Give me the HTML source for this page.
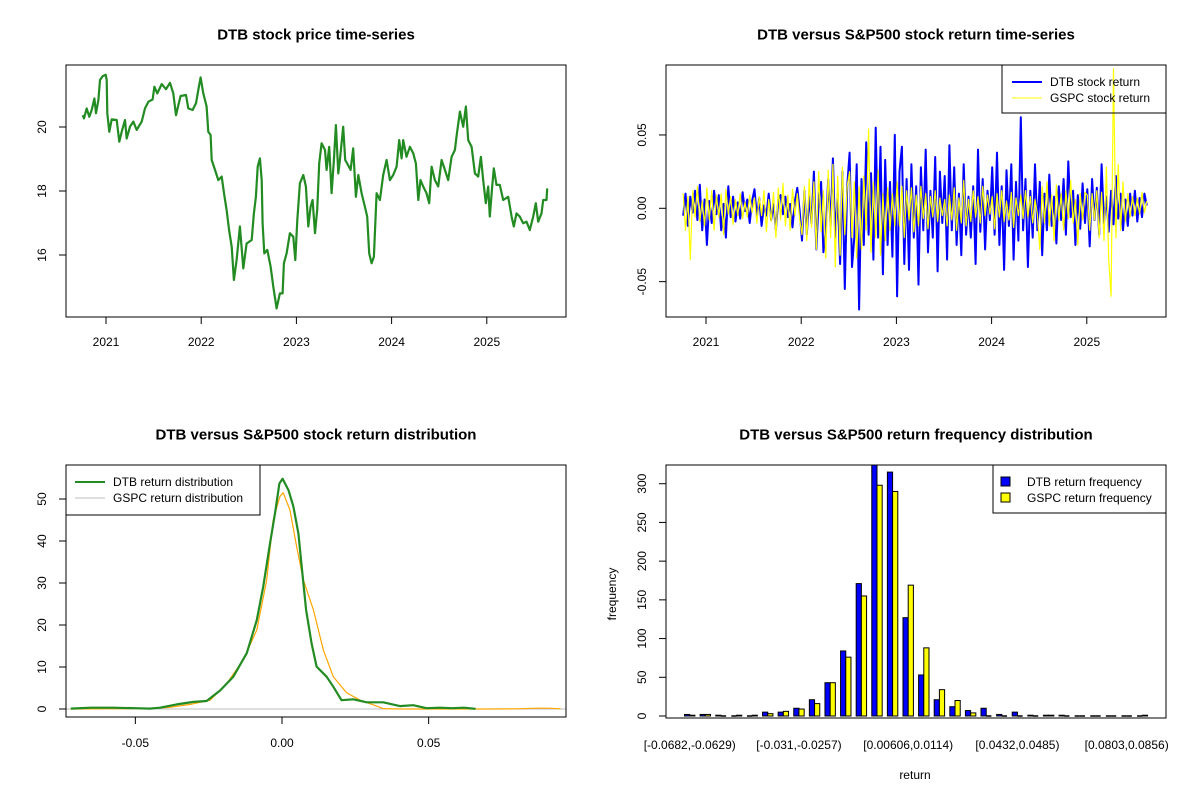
<!DOCTYPE html>
<html><head><meta charset="utf-8"><style>
html,body{margin:0;padding:0;background:#fff}
svg{display:block;font-family:"Liberation Sans",Arial,sans-serif}
</style></head><body>
<svg id="root" width="1200" height="800" viewBox="0 0 1200 800" xmlns="http://www.w3.org/2000/svg"></svg>
<script>
// ---------- Panel 1 data: DTB price ----------
const priceDates=[2020.755,2020.769,2020.797,2020.825,2020.850,2020.878,2020.895,2020.920,2020.937,2020.965,2020.997,2021.007,2021.014,2021.035,2021.060,2021.112,2021.140,2021.165,2021.200,2021.217,2021.252,2021.287,2021.322,2021.375,2021.410,2021.445,2021.490,2021.508,2021.539,2021.585,2021.630,2021.672,2021.707,2021.735,2021.760,2021.784,2021.840,2021.865,2021.910,2021.945,2021.970,2021.994,2022.022,2022.057,2022.075,2022.099,2022.110,2022.145,2022.180,2022.215,2022.239,2022.267,2022.295,2022.320,2022.344,2022.372,2022.407,2022.442,2022.477,2022.530,2022.554,2022.575,2022.593,2022.617,2022.635,2022.645,2022.663,2022.694,2022.729,2022.757,2022.792,2022.827,2022.855,2022.869,2022.897,2022.932,2022.967,2022.988,2023.009,2023.037,2023.072,2023.100,2023.125,2023.149,2023.170,2023.195,2023.219,2023.240,2023.265,2023.300,2023.317,2023.345,2023.370,2023.394,2023.415,2023.440,2023.457,2023.492,2023.513,2023.534,2023.569,2023.597,2023.625,2023.650,2023.685,2023.720,2023.744,2023.765,2023.790,2023.814,2023.842,2023.877,2023.912,2023.947,2023.982,2024.017,2024.052,2024.080,2024.105,2024.122,2024.157,2024.192,2024.227,2024.255,2024.280,2024.304,2024.332,2024.367,2024.395,2024.420,2024.455,2024.490,2024.525,2024.560,2024.595,2024.630,2024.665,2024.682,2024.717,2024.752,2024.780,2024.805,2024.840,2024.875,2024.910,2024.938,2024.962,2024.990,2025.015,2025.032,2025.057,2025.074,2025.102,2025.137,2025.172,2025.225,2025.260,2025.284,2025.312,2025.347,2025.382,2025.417,2025.452,2025.487,2025.515,2025.540,2025.575,2025.592,2025.627,2025.634];
const priceValues=[20.37,20.27,20.58,20.32,20.53,20.89,20.43,20.84,21.47,21.59,21.63,21.47,20.43,19.85,20.24,20.22,19.54,19.85,20.22,19.64,20.01,20.17,19.91,20.17,20.58,20.79,20.86,21.26,21.05,21.34,21.18,21.38,21.05,20.37,20.69,20.97,21.0,20.58,20.53,20.74,21.16,21.55,21.05,20.64,19.85,19.75,18.97,18.66,18.34,18.45,17.93,17.41,16.73,16.26,15.22,15.84,16.89,15.58,16.36,16.47,17.30,17.82,18.76,19.02,18.34,16.99,16.05,16.16,15.64,15.01,14.33,14.80,14.80,15.74,16.05,16.68,16.57,15.84,17.09,18.24,18.50,18.14,16.89,17.51,17.72,16.68,17.41,18.86,19.49,19.28,18.66,19.38,17.93,18.97,20.06,18.55,18.97,20.01,18.97,18.86,18.66,19.33,17.82,18.50,17.93,17.51,17.20,16.05,15.74,15.95,17.93,17.72,18.50,18.97,18.34,18.50,18.76,19.59,19.02,19.59,19.07,19.38,19.18,18.86,17.72,18.34,18.14,17.93,17.62,18.76,18.34,18.14,18.97,18.66,18.34,19.07,19.28,19.70,20.48,20.01,20.64,19.59,19.38,18.55,18.45,19.07,18.34,17.62,18.14,17.20,18.14,18.71,18.19,18.19,17.72,17.82,17.20,16.89,17.30,17.20,16.99,17.04,16.78,17.20,17.62,17.04,17.30,17.72,17.72,18.08];
const priceYTicks=[16,18,20];
const yearTicks=[2021,2022,2023,2024,2025];

// ---------- Panel 2 data: returns (percent) ----------
const retStart=2020.76, retEnd=2025.63;
const dtbRetPct=[-0.5,1.0,-1.2,0.8,-0.3,1.2,-0.8,1.6,-1.5,0.6,
-2.5,0.5,-1.0,1.2,-0.4,0.9,-1.5,0.3,-2.0,1.5,-0.6,0.8,-0.9,0.4,-0.7,1.1,-0.2,0.6,-1.0,0.5,
1.3,-0.6,0.7,-1.2,0.2,-0.5,1.0,-0.8,0.3,-1.5,0.6,0.9,-0.4,0.8,-0.6,0.3,-1.3,0.5,1.4,-0.2,
-2.2,1.2,-1.8,0.8,-1.0,2.5,-2.8,0.5,1.8,-3.0,-1.5,2.0,-1.2,3.4,-2.0,1.0,-3.8,2.5,-5.5,1.5,
3.8,-4.0,-2.0,3.0,-6.9,2.0,-2.5,4.5,-1.8,2.4,-3.5,5.5,-2.0,4.2,-4.5,3.3,-2.5,1.8,-3.3,5.0,
-6.0,2.5,4.2,-3.8,2.0,-4.2,3.0,-2.0,1.5,-5.2,2.8,-1.5,4.0,-3.0,1.2,-2.0,3.5,-4.3,2.5,-1.0,
2.2,-3.5,4.3,-1.5,2.8,-2.5,1.0,-3.2,3.0,-1.8,0.8,-2.0,1.5,-3.8,4.0,-1.6,2.0,-2.8,1.2,-0.8,
2.8,-1.8,3.8,-2.5,1.5,-4.2,2.6,-1.2,3.0,-3.5,1.8,-2.2,6.2,-1.5,2.0,-4.0,1.2,-2.0,3.0,-1.5,
1.8,-3.2,1.0,-1.5,2.3,-1.2,0.8,-2.4,1.5,-0.8,2.0,-1.8,3.2,-0.6,1.2,-2.5,0.9,-1.4,1.7,-1.0,
1.3,-2.6,2.0,-0.8,1.4,-1.8,3.0,-1.0,0.8,-1.6,1.2,-1.1,2.2,-0.7,1.0,-1.5,0.6,-1.2,1.0,-0.5,1.2,-0.9,0.7,-0.6,1.0,0.2];
const gspcRetPct=[1.0,-1.5,0.8,-3.5,1.2,-0.6,1.5,-0.9,0.5,-1.2,
1.4,-0.8,1.2,-1.5,0.9,-0.6,1.0,-1.8,1.3,-0.4,0.8,-1.1,0.6,-0.5,1.0,-0.7,0.4,-0.6,0.9,-0.3,
0.7,-1.0,0.8,-0.5,1.2,-1.6,0.6,-0.9,1.1,-2.0,1.4,-0.8,1.7,-1.2,0.9,-1.5,1.3,-0.5,1.0,-0.8,
-1.8,1.5,-2.2,2.0,-1.3,1.8,-2.8,2.5,-1.6,1.2,-3.4,2.6,-2.0,3.0,-4.0,2.2,-3.2,2.8,-1.8,1.5,
2.5,-2.0,1.8,-3.4,1.5,-2.8,2.2,-1.5,5.4,-3.0,1.8,-2.0,2.6,-3.2,1.0,-2.2,1.4,-1.5,1.0,-1.2,
1.8,-1.2,1.5,-2.0,1.2,-0.8,1.4,-1.6,0.9,-1.2,1.5,-0.7,1.0,-1.4,0.8,-0.6,1.2,-0.9,0.7,-0.5,
0.6,-1.2,0.9,-0.8,1.4,-1.5,0.7,-1.0,1.9,-1.2,0.6,-0.9,1.2,-0.6,0.8,-1.0,1.5,-0.5,0.9,-0.4,
0.8,-1.4,1.0,-0.6,1.2,-0.9,0.5,-0.8,1.1,-1.3,0.7,-0.5,0.9,-0.7,1.2,-0.6,0.8,-1.0,0.6,-0.4,
-2.8,1.5,-1.0,1.8,-1.2,0.9,-2.2,1.6,-0.8,1.0,-1.5,1.2,-0.7,1.9,-1.0,0.6,-2.5,1.0,-0.8,1.1,
0.9,-1.5,1.0,-0.8,1.2,-2.0,1.1,-2.2,2.8,-3.5,-6.0,9.5,-2.0,3.0,-1.5,1.8,-0.9,1.0,-0.6,0.8,-0.5,0.7,-0.4,1.1,-0.3,0.5];
const retYTicks=[-0.05,0,0.05];
const retYLabels=["-0.05","0.00","0.05"];

// ---------- Panel 3 data: densities ----------
const dtbDensX=[-0.072,-0.065,-0.058,-0.05,-0.045,-0.0416,-0.0359,-0.0302,-0.0257,-0.0211,-0.0166,-0.0120,-0.0086,-0.0064,-0.0041,-0.0024,-0.0009,0.0002,0.0022,0.0039,0.0056,0.0067,0.0082,0.0101,0.0118,0.0152,0.0175,0.0203,0.0243,0.0289,0.0345,0.0402,0.0447,0.0493,0.0538,0.058,0.062,0.066];
const dtbDensY=[0.1,0.3,0.3,0.2,0.1,0.3,1.1,1.7,1.9,4.4,7.7,13.3,21.2,29.1,39.4,46.6,53.7,54.8,52.1,48.2,41.8,33.9,23.6,15.6,10.1,7.7,5.3,2.1,2.3,1.6,1.6,0.7,0.9,0.2,0.3,0.2,0.3,0.05];
const gspcDensX=[-0.072,-0.06,-0.052,-0.046,-0.042,-0.0382,-0.0313,-0.0245,-0.0188,-0.0132,-0.0086,-0.0052,-0.0030,-0.0007,0.0004,0.0027,0.0050,0.0073,0.0107,0.0141,0.0175,0.0220,0.0266,0.0311,0.0345,0.04,0.05,0.06,0.07,0.08,0.087,0.091,0.095];
const gspcDensY=[0.0,0.05,0.1,0.2,0.2,0.4,1.1,2.1,6.1,11.7,18.8,30.7,45.0,50.6,51.5,47.4,38.6,30.7,23.6,14.0,7.7,3.9,2.1,1.0,0.1,0.0,0.0,0.0,0.0,0.05,0.2,0.2,0.05];
const densXTicks=[-0.05,0,0.05];
const densXLabels=["-0.05","0.00","0.05"];
const densYTicks=[0,10,20,30,40,50];

// ---------- Panel 4 data: histogram ----------
const dtbFreq=[2,2,1,0,0,5,5,10,21,43,84,171,325,315,127,53,21,12,7,10,2,5,1,1,1,0,0,0,0,0];
const gspcFreq=[1,2,0,1,1,3,6,9,16,43,76,155,298,290,169,88,34,20,4,0,0,0,0,1,0,0,0,0,0,1];
const binLabels=["[-0.0682,-0.0629)","[-0.031,-0.0257)","[0.00606,0.0114)","[0.0432,0.0485)","[0.0803,0.0856)"];
const binLabelIdx=[0,7,14,21,28];
const freqYTicks=[0,50,100,150,200,250,300];

// ---------- helpers ----------
const NS="http://www.w3.org/2000/svg";
const root=document.getElementById('root');
function mk(tag,attrs,parent,text){const e=document.createElementNS(NS,tag);for(const k in attrs)e.setAttribute(k,attrs[k]);if(text!==undefined)e.textContent=text;(parent||root).appendChild(e);return e;}
function group(name){const g=mk('g',{});return g;}
function txt(g,x,y,s,name,opts){opts=opts||{};const a={x:x,y:y,'font-size':opts.size||12,'text-anchor':opts.anchor||'middle','dominant-baseline':'central',fill:'#000'};if(opts.bold)a['font-weight']='bold';if(opts.rot)a.transform='rotate(-90 '+x+' '+y+')';const t=mk('text',a,g,s);return t;}
function box(g,x0,y0,x1,y1,name){const r=mk('rect',{x:x0,y:y0,width:x1-x0,height:y1-y0,fill:'none',stroke:'#000','stroke-width':1},g);}
function tickLine(g,x1,y1,x2,y2){const l=mk('line',{x1:x1,y1:y1,x2:x2,y2:y2,stroke:'#000','stroke-width':1},g);}
function poly(g,xs,ys,color,w,name){let d='';for(let i=0;i<xs.length;i++)d+=(i?'L':'M')+xs[i].toFixed(1)+' '+ys[i].toFixed(1);const p=mk('path',{d:d,fill:'none',stroke:color,'stroke-width':w,'stroke-linejoin':'round'},g);return p;}

// ---------- Panel 1 ----------
(function(){
 const g=group('price-panel');
 const X=d=>106+(d-2021)*95.2, Y=v=>127+(20-v)*32;
 txt(g,316,35,'DTB stock price time-series','price-chart-title',{bold:true,size:15});
 poly(g,priceDates.map(X),priceValues.map(Y),'#228B22',2.2,'dtb-price-line');
 box(g,66,65,566,317,'price-plot-frame');
 yearTicks.forEach(t=>{tickLine(g,X(t),317,X(t),324);txt(g,X(t),342,String(t),'price-x-tick-label');});
 priceYTicks.forEach(t=>{tickLine(g,59,Y(t),66,Y(t));txt(g,42,Y(t),String(t),'price-y-tick-label',{rot:true});});
})();

// ---------- Panel 2 ----------
(function(){
 const g=group('return-panel');
 const X=d=>706+(d-2021)*95.2, Y=v=>208.3-v*1467;
 const n=dtbRetPct.length;
 const dts=dtbRetPct.map((_,i)=>retStart+(retEnd-retStart)*i/(n-1));
 txt(g,916,35,'DTB versus S&P500 stock return time-series','return-chart-title',{bold:true,size:15});
 poly(g,dts.map(X),dtbRetPct.map(v=>Y(v/100)),'#0000FF',2,'dtb-return-line');
 const m=gspcRetPct.length;
 const dts2=gspcRetPct.map((_,i)=>retStart+(retEnd-retStart)*i/(m-1));
 poly(g,dts2.map(X),gspcRetPct.map(v=>Y(v/100)),'#FFFF00',1.2,'gspc-return-line');
 box(g,666,65,1166,317,'return-plot-frame');
 yearTicks.forEach(t=>{tickLine(g,X(t),317,X(t),324);txt(g,X(t),342,String(t),'return-x-tick-label');});
 retYTicks.forEach((t,i)=>{tickLine(g,659,Y(t),666,Y(t));txt(g,642,Y(t),retYLabels[i],'return-y-tick-label',{rot:true});});
 const lg=group('return-legend');root.removeChild(lg);g.appendChild(lg);
 box(lg,1002,65,1166,113,'return-legend-box');
 const l1=mk('line',{x1:1012,y1:82,x2:1042,y2:82,stroke:'#0000FF','stroke-width':2},lg);
 const l2=mk('line',{x1:1012,y1:98,x2:1042,y2:98,stroke:'#FFFF00','stroke-width':1},lg);
 txt(lg,1050,82,'DTB stock return','legend-dtb-label',{anchor:'start'});
 txt(lg,1050,98,'GSPC stock return','legend-gspc-label',{anchor:'start'});
})();

// ---------- Panel 3 ----------
(function(){
 const g=group('density-panel');
 const X=v=>282+v*2933, Y=v=>709-v*4.2;
 txt(g,316,435,'DTB versus S&P500 stock return distribution','density-chart-title',{bold:true,size:15});
 const bl=mk('line',{x1:66,y1:Y(0),x2:566,y2:Y(0),stroke:'#BEBEBE','stroke-width':1},g);
 poly(g,gspcDensX.map(X),gspcDensY.map(Y),'#FFA500',1.2,'gspc-density-line');
 poly(g,dtbDensX.map(X),dtbDensY.map(Y),'#228B22',2.2,'dtb-density-line');
 box(g,66,465,566,717,'density-plot-frame');
 densXTicks.forEach((t,i)=>{tickLine(g,X(t),717,X(t),724);txt(g,X(t),743,densXLabels[i],'density-x-tick-label');});
 densYTicks.forEach(t=>{tickLine(g,59,Y(t),66,Y(t));txt(g,42,Y(t),String(t),'density-y-tick-label',{rot:true});});
 const lg=group('density-legend');root.removeChild(lg);g.appendChild(lg);
 mk('rect',{x:66,y:465,width:194,height:50,fill:'#fff',stroke:'#000'},lg);
 const l1=mk('line',{x1:75,y1:482,x2:105,y2:482,stroke:'#228B22','stroke-width':2},lg);
 const l2=mk('line',{x1:75,y1:498,x2:105,y2:498,stroke:'#BEBEBE','stroke-width':1},lg);
 txt(lg,113,482,'DTB return distribution','legend-dtb-label',{anchor:'start'});
 txt(lg,113,498,'GSPC return distribution','legend-gspc-label',{anchor:'start'});
})();

// ---------- Panel 4 ----------
(function(){
 const g=group('histogram-panel');
 const U=u=>666+(u+2.56)*5.2018, Y=v=>716-v*0.7743;
 txt(g,916,435,'DTB versus S&P500 return frequency distribution','histogram-chart-title',{bold:true,size:15});
 const clip=mk('clipPath',{id:'hclip'},g);mk('rect',{x:666,y:465,width:500,height:253},clip);
 const bars=mk('g',{'clip-path':'url(#hclip)'},g);
 
 function bar(u,v,fill,name){
  if(v>0){const r=mk('rect',{x:U(u),y:Y(v),width:U(u+1)-U(u),height:Y(0)-Y(v),fill:fill,stroke:'#000','stroke-width':1},bars);}
  else{const l=mk('line',{x1:U(u),y1:Y(0),x2:U(u+1),y2:Y(0),stroke:'#000','stroke-width':1.5},bars);}
 }
 dtbFreq.forEach((v,i)=>bar(1+3*i,v,'#0000FF','bar-dtb'));
 gspcFreq.forEach((v,i)=>bar(2+3*i,v,'#FFFF00','bar-gspc'));
 box(g,666,465,1166,718,'histogram-plot-frame');
 freqYTicks.forEach(t=>{tickLine(g,659,Y(t),666,Y(t));txt(g,642,Y(t),String(t),'frequency-y-tick-label',{rot:true});});
 binLabelIdx.forEach((b,i)=>{txt(g,U(2+3*b),745,binLabels[i],'bin-x-label');});
 txt(g,612,594,'frequency','frequency-axis-title',{rot:true});
 txt(g,915,775,'return','return-axis-title');
 const lg=group('histogram-legend');root.removeChild(lg);g.appendChild(lg);
 mk('rect',{x:993,y:465,width:173,height:48,fill:'#fff',stroke:'#000'},lg);
 const s1=mk('rect',{x:1001,y:477,width:9,height:9,fill:'#0000FF',stroke:'#000'},lg);
 const s2=mk('rect',{x:1001,y:493,width:9,height:9,fill:'#FFFF00',stroke:'#000'},lg);
 txt(lg,1027,482,'DTB return frequency','legend-dtb-label',{anchor:'start'});
 txt(lg,1027,498,'GSPC return frequency','legend-gspc-label',{anchor:'start'});
})();
</script>
</body></html>
